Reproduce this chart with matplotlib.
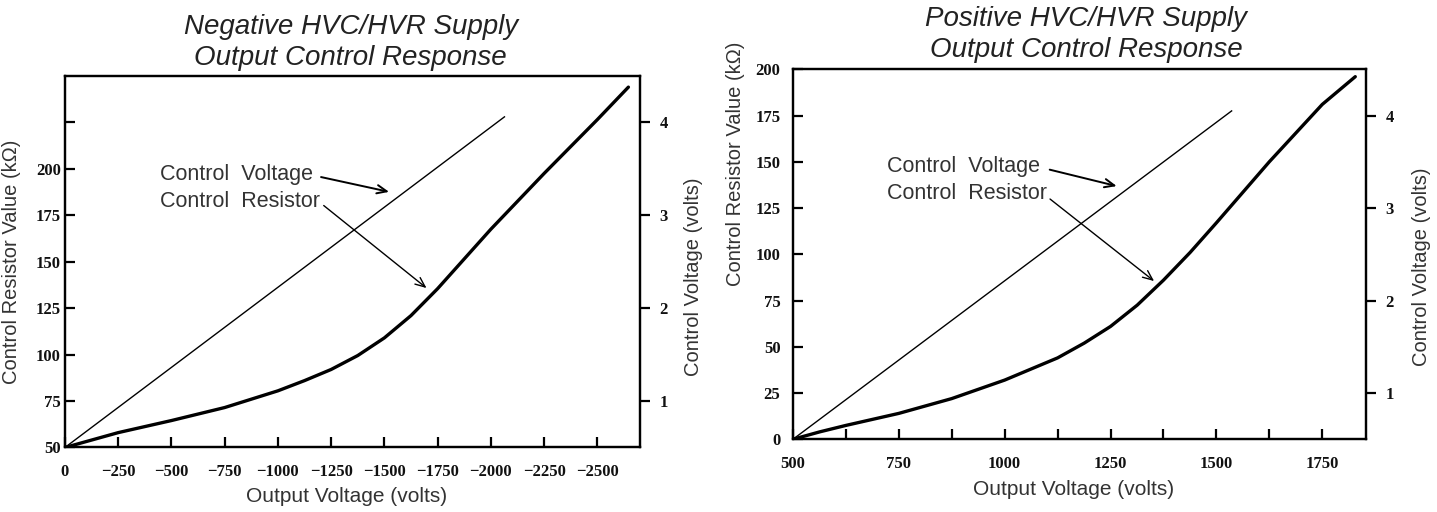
import matplotlib
matplotlib.use('Agg')
import matplotlib.pyplot as plt
from matplotlib.font_manager import FontProperties

# negative supply
neg_x = [0, -125, -250, -500, -750, -1000, -1125, -1250, -1375, -1500, -1625,
         -1750, -1875, -2000, -2125, -2250, -2375, -2500, -2646]
neg_r = [50, 54, 58, 64.5, 71.5, 80.5, 86, 92, 99.5, 109, 121,
         135.5, 151.5, 167.5, 182.5, 197.5, 212, 226.5, 244]
neg_vx = [0, -2064]
neg_v = [0.5, 4.06]
neg_xticks = [0, -250, -500, -750, -1000, -1250, -1500, -1750, -2000, -2250, -2500]
neg_yticks = [50, 75, 100, 125, 150, 175, 200, 225]
neg_ylabels = ['50', '75', '100', '125', '150', '175', '200', '']

# positive supply
pos_x = [500, 563, 625, 750, 875, 1000, 1125, 1188, 1250, 1313, 1375,
         1438, 1500, 1625, 1750, 1828]
pos_r = [0, 4, 7.5, 14, 22, 32, 44, 52, 61, 72.5, 86,
         101, 117, 150, 181, 196]
pos_vx = [500, 1536]
pos_v = [0.5, 4.05]
pos_xticks = [500, 625, 750, 875, 1000, 1125, 1250, 1375, 1500, 1625, 1750]
pos_xlabels = ['500', '', '750', '', '1000', '', '1250', '', '1500', '', '1750']
pos_yticks = [0, 25, 50, 75, 100, 125, 150, 175, 200]

volt_ticks = [1, 2, 3, 4]

sans = 'Liberation Sans'
tickfont = FontProperties(family='Liberation Serif', weight='bold', size=12)
gray = '#333333'
arrow = '->,head_length=0.7,head_width=0.3'


def setup(ax, ax2, lpad):
    for s in ax.spines.values():
        s.set_linewidth(1.6)
    ax.tick_params(axis='x', direction='in', length=7, width=1.6, pad=12,
                   top=False)
    ax.tick_params(axis='y', direction='in', length=7, width=1.6, pad=lpad,
                   right=False)
    ax2.set_ylim(0.5, 4.5)
    ax2.set_yticks(volt_ticks)
    ax2.tick_params(axis='y', direction='out', length=7, width=1.6, pad=7)
    for lab in ax.get_xticklabels() + ax.get_yticklabels() + ax2.get_yticklabels():
        lab.set_fontproperties(tickfont)
        lab.set_color('#111111')
    for s in ax2.spines.values():
        s.set_linewidth(1.6)


fig = plt.figure(figsize=(14.37, 5.12), dpi=100)

# ---------- left chart
ax = fig.add_axes([0.0452, 0.1260, 0.4001, 0.7256])
ax.plot(neg_x, neg_r, c='k', lw=2.4, solid_capstyle='round')
ax.set_xlim(0, -2700)
ax.set_ylim(50, 250)
ax.set_xticks(neg_xticks)
ax.set_xticklabels([str(t).replace('-', '\u2212') for t in neg_xticks])
ax.set_yticks(neg_yticks)
ax.set_yticklabels(neg_ylabels)
ax2 = ax.twinx()
ax2.plot(neg_vx, neg_v, c='k', lw=1.0)
setup(ax, ax2, 3)
ax.set_xlabel('Output Voltage (volts)', family=sans, size=15, color=gray)
ax.xaxis.set_label_coords(0.49, -0.106)
ax.set_ylabel('Control Resistor Value (k\u03a9)', family=sans, size=14.5, color=gray)
ax.yaxis.set_label_coords(-0.077, 0.5)
ax2.set_ylabel('Control Voltage (volts)', family=sans, size=14.5, color=gray)
ax2.yaxis.set_label_coords(1.077, 0.46)
ax.text(0.497, 1.09, 'Negative HVC/HVR Supply\nOutput Control Response',
        transform=ax.transAxes, ha='center', va='center', family=sans,
        style='italic', size=20, linespacing=1.25, color='#222222')
ax.text(-446, 196.8, 'Control  Voltage', family=sans, size=15.5, color=gray,
        ha='left', va='center')
ax.text(-446, 182.4, 'Control  Resistor', family=sans, size=15.5, color=gray,
        ha='left', va='center')
ax.annotate('', xy=(-1535, 187.3), xytext=(-1190, 195.9),
            arrowprops=dict(arrowstyle=arrow, color='k', lw=1.4))
ax.annotate('', xy=(-1708, 134.9), xytext=(-1205, 181.2),
            arrowprops=dict(arrowstyle=arrow, color='k', lw=1.0))

# ---------- right chart
bx = fig.add_axes([0.5518, 0.1420, 0.3987, 0.7227])
bx.plot(pos_x, pos_r, c='k', lw=2.4, solid_capstyle='round')
bx.set_xlim(500, 1853)
bx.set_ylim(0, 200)
bx.set_xticks(pos_xticks)
bx.set_xticklabels(pos_xlabels)
bx.set_yticks(pos_yticks)
bx2 = bx.twinx()
bx2.plot(pos_vx, pos_v, c='k', lw=1.0)
setup(bx, bx2, 9)
bx.set_xlabel('Output Voltage (volts)', family=sans, size=15, color=gray)
bx.xaxis.set_label_coords(0.489, -0.11)
bx.set_ylabel('Control Resistor Value (k\u03a9)', family=sans, size=14.5, color=gray)
bx.yaxis.set_label_coords(-0.084, 0.744)
bx2.set_ylabel('Control Voltage (volts)', family=sans, size=14.5, color=gray)
bx2.yaxis.set_label_coords(1.08, 0.466)
bx.text(0.512, 1.095, 'Positive HVC/HVR Supply\nOutput Control Response',
        transform=bx.transAxes, ha='center', va='center', family=sans,
        style='italic', size=20, linespacing=1.25, color='#222222')
bx.text(723, 147.4, 'Control  Voltage', family=sans, size=15.5, color=gray,
        ha='left', va='center')
bx.text(723, 132.6, 'Control  Resistor', family=sans, size=15.5, color=gray,
        ha='left', va='center')
bx.annotate('', xy=(1271, 136.5), xytext=(1100, 146.1),
            arrowprops=dict(arrowstyle=arrow, color='k', lw=1.4))
bx.annotate('', xy=(1358, 84.6), xytext=(1102, 130.8),
            arrowprops=dict(arrowstyle=arrow, color='k', lw=1.0))

plt.savefig('out.png', dpi=100)
